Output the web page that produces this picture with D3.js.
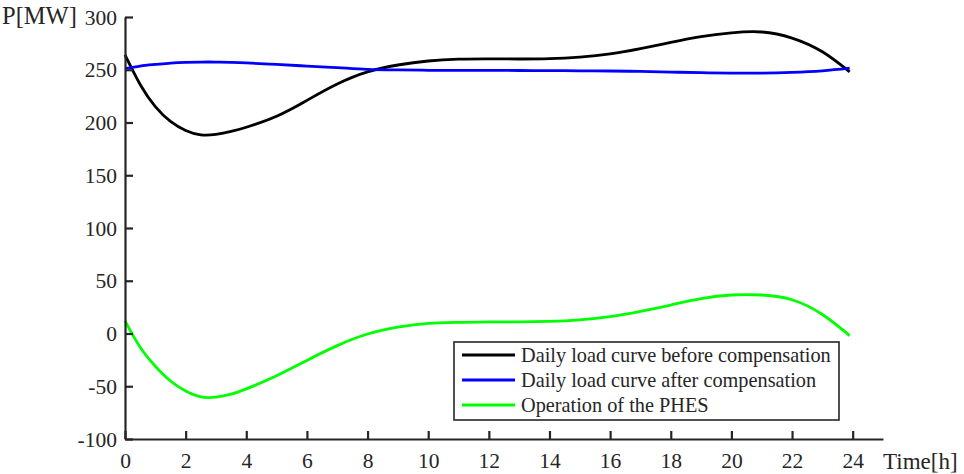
<!DOCTYPE html>
<html>
<head>
<meta charset="utf-8">
<script src="https://cdn.jsdelivr.net/npm/d3@7"></script>
<style>
  body { margin: 0; background: #fff; }
  text { font-family: "Liberation Serif", "Times New Roman", serif; fill: #262626; }
</style>
</head>
<body>
<div id="chart-area"></div>
<script>
// Data
// ****
const hours = [0, 0.5, 1, 1.5, 2, 2.5, 3, 3.5, 4, 5, 6, 7, 8, 9, 10, 11, 12, 13, 14, 15, 16, 17, 18, 19, 20, 21, 22, 23, 23.9]
const loadBefore = [264, 236, 215, 201, 192.5, 188.3, 188.8, 191.5, 195.5, 206, 221, 236.5, 248, 254.5, 258.3, 260, 260.3, 260.2, 260.5, 262, 265, 270, 276, 281.5, 285, 285.8, 280, 267, 248]
const loadAfter = [251, 253.5, 255, 256.3, 257, 257.3, 257.3, 257, 256.5, 255, 253.5, 252, 250.3, 249.8, 249.5, 249.4, 249.4, 249.3, 249.2, 249, 248.8, 248.4, 247.8, 247.2, 246.8, 246.8, 247.5, 249, 251.5]
const phes = [12, -13, -31, -45, -54.5, -60, -60.3, -57.5, -52.5, -40, -25.5, -11.5, -0.5, 6, 9.5, 10.5, 11, 11, 11.5, 13, 16, 21, 27, 33, 36.5, 36.5, 32, 18, -2]

const xTicks = [0, 2, 4, 6, 8, 10, 12, 14, 16, 18, 20, 22, 24]
const yTicks = [-100, -50, 0, 50, 100, 150, 200, 250, 300]

const seriesNames = ["Daily load curve before compensation", "Daily load curve after compensation", "Operation of the PHES"]
const seriesColors = ["#000000", "#0000ff", "#00ff00"]
const seriesValues = [loadBefore, loadAfter, phes]

// Config
// ******
const margin = {top: 17, right: 81, bottom: 35, left: 125}
const width = 964 - margin.left - margin.right, height = 474 - margin.top - margin.bottom
const axisColor = "#262626"

const svg = d3.select("#chart-area")
	.append("svg")
		.attr("width", 964)
		.attr("height", 474)
const g = svg.append("g")
	.attr("transform", "translate(" + margin.left + ", " + margin.top + ")")

const x = d3.scaleLinear().domain([0, 25]).range([0, width])
const y = d3.scaleLinear().domain([-100, 300]).range([height, 0])

// Lines
// *****
const line = d3.line().curve(d3.curveNatural)

seriesValues.forEach((vals, i) => {
	g.append("path")
		.attr("fill", "none")
		.attr("stroke", seriesColors[i])
		.attr("stroke-width", 2.8)
		.attr("d", line(hours.map((h, j) => [x(h), y(vals[j])])))
})

// Axes
// ****
const xAxis = g.append("g").attr("transform", "translate(0, " + height + ")")
	.call(d3.axisBottom(x).tickValues(xTicks).tickFormat(d => String(d))
		.tickSizeInner(-8).tickSizeOuter(0).tickPadding(14))
const yAxis = g.append("g")
	.call(d3.axisLeft(y).tickValues(yTicks).tickFormat(d => String(d))
		.tickSizeInner(-8).tickSizeOuter(0).tickPadding(8))

;[xAxis, yAxis].forEach(ax => {
	ax.attr("font-size", null).attr("font-family", null)
	ax.select(".domain").attr("stroke", axisColor).attr("stroke-width", 2.2)
	ax.selectAll(".tick line").attr("stroke", axisColor).attr("stroke-width", 2.2)
	ax.selectAll(".tick text")
		.style("font-family", "'Liberation Serif', serif")
		.style("font-size", "21.5px")
		.style("fill", axisColor)
})
yAxis.selectAll(".tick text").attr("dy", "0.33em")

// Labels
// ******
svg.append("text")
	.attr("x", 2)
	.attr("y", 24)
	.style("font-size", "24.5px")
	.text("P[MW]")

svg.append("text")
	.attr("x", 883)
	.attr("y", 469)
	.style("font-size", "23px")
	.text("Time[h]")

// Legend
// ******
const legend = svg.append("g").attr("transform", "translate(454, 342)")
legend.append("rect")
	.attr("width", 385)
	.attr("height", 78)
	.attr("fill", "#fff")
	.attr("stroke", axisColor)
	.attr("stroke-width", 1.6)

seriesNames.forEach((name, i) => {
	const row = legend.append("g").attr("transform", "translate(0, " + (13 + i * 25) + ")")
	row.append("line")
		.attr("x1", 8).attr("x2", 61)
		.attr("y1", 0).attr("y2", 0)
		.attr("stroke", seriesColors[i])
		.attr("stroke-width", 2.8)
	row.append("text")
		.attr("x", 67)
		.attr("y", 0)
		.attr("dy", "0.34em")
		.style("font-size", "20.3px")
		.text(name)
})
</script>
</body>
</html>
